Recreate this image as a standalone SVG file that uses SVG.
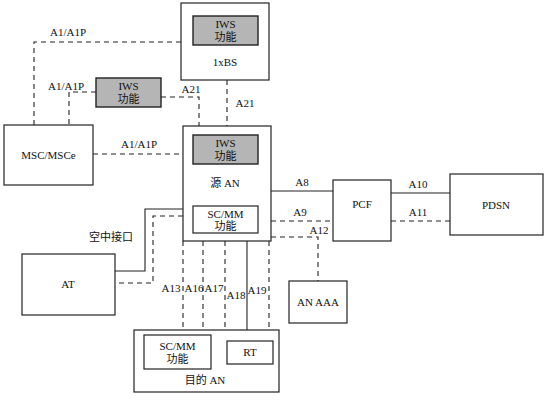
<svg xmlns="http://www.w3.org/2000/svg" width="550" height="401" viewBox="0 0 550 401">
<style>
.box{fill:#fff;stroke:#222;stroke-width:1.2}
.iws{fill:#b5b5b5;stroke:#222;stroke-width:1.4}
.ln{fill:none;stroke:#222;stroke-width:1.1}
.dl{fill:none;stroke:#222;stroke-width:1.1;stroke-dasharray:5 4}
text{font-family:"Liberation Serif","Noto Sans CJK SC",serif;font-size:11px;fill:#111;text-anchor:middle}
</style>
<rect width="550" height="401" fill="#fff"/>
<g id="connectors">
<path class="dl" d="M181,42 H34 V125"/>
<path class="dl" d="M96,92 H69 V125"/>
<path class="dl" d="M161,97 H199 V126"/>
<path class="dl" d="M227,80 V126"/>
<path class="dl" d="M93,154 H183"/>
<path class="ln" d="M271,191 H333"/>
<path class="dl" d="M271,221 H333"/>
<path class="dl" d="M271,237 H318 V281"/>
<path class="ln" d="M391,193 H450"/>
<path class="dl" d="M391,221 H450"/>
<path class="ln" d="M183,209 H145 V271 H115"/>
<path class="dl" d="M183,216 H153 V283 H115"/>
<path class="dl" d="M183,241 V330"/>
<path class="dl" d="M203,241 V330"/>
<path class="dl" d="M225,241 V330"/>
<path class="ln" d="M247,241 V341"/>
<path class="dl" d="M269,241 V341"/>
<text x="68" y="36">A1/A1P</text>
<text x="66" y="90">A1/A1P</text>
<text x="191" y="93">A21</text>
<text x="245" y="107">A21</text>
<text x="139" y="148">A1/A1P</text>
<text x="302" y="186">A8</text>
<text x="300" y="216">A9</text>
<text x="319" y="234">A12</text>
<text x="418" y="188">A10</text>
<text x="418" y="216">A11</text>
<text x="111" y="241">空中接口</text>
<text x="171" y="292">A13</text>
<text x="194" y="292">A16</text>
<text x="214" y="292">A17</text>
<text x="236" y="299">A18</text>
<text x="257" y="294">A19</text>
</g>
<g id="bs1x">
<rect class="box" x="181" y="3" width="88" height="77"/>
<rect class="iws" x="193" y="16" width="65" height="29"/>
<text x="225.5" y="28">IWS</text>
<text x="225.5" y="41">功能</text>
<text x="225" y="66">1xBS</text>
</g>
<g id="iws-mid">
<rect class="iws" x="96" y="78" width="65" height="29"/>
<text x="128.5" y="90">IWS</text>
<text x="128.5" y="103">功能</text>
</g>
<g id="msc">
<rect class="box" x="4" y="125" width="89" height="60"/>
<text x="48.5" y="159">MSC/MSCe</text>
</g>
<g id="src-an">
<rect class="box" x="183" y="126" width="88" height="115"/>
<rect class="iws" x="193" y="135" width="65" height="29"/>
<text x="225.5" y="147">IWS</text>
<text x="225.5" y="160">功能</text>
<text x="225" y="187">源 AN</text>
<rect class="box" x="193" y="206" width="65" height="27"/>
<text x="225.5" y="218">SC/MM</text>
<text x="225.5" y="230">功能</text>
</g>
<g id="pcf">
<rect class="box" x="333" y="180" width="58" height="61"/>
<text x="362" y="208">PCF</text>
</g>
<g id="pdsn">
<rect class="box" x="450" y="174" width="93" height="61"/>
<text x="496" y="209">PDSN</text>
</g>
<g id="anaaa">
<rect class="box" x="289" y="281" width="58" height="42"/>
<text x="318" y="306">AN AAA</text>
</g>
<g id="at">
<rect class="box" x="22" y="254" width="93" height="61"/>
<text x="68" y="288">AT</text>
</g>
<g id="dst-an">
<rect class="box" x="134" y="330" width="145" height="62"/>
<rect class="box" x="144" y="335" width="67" height="34"/>
<text x="177.5" y="350">SC/MM</text>
<text x="177.5" y="363">功能</text>
<rect class="box" x="227" y="341" width="46" height="23"/>
<text x="250" y="356">RT</text>
<text x="205" y="384">目的 AN</text>
</g>
</svg>
